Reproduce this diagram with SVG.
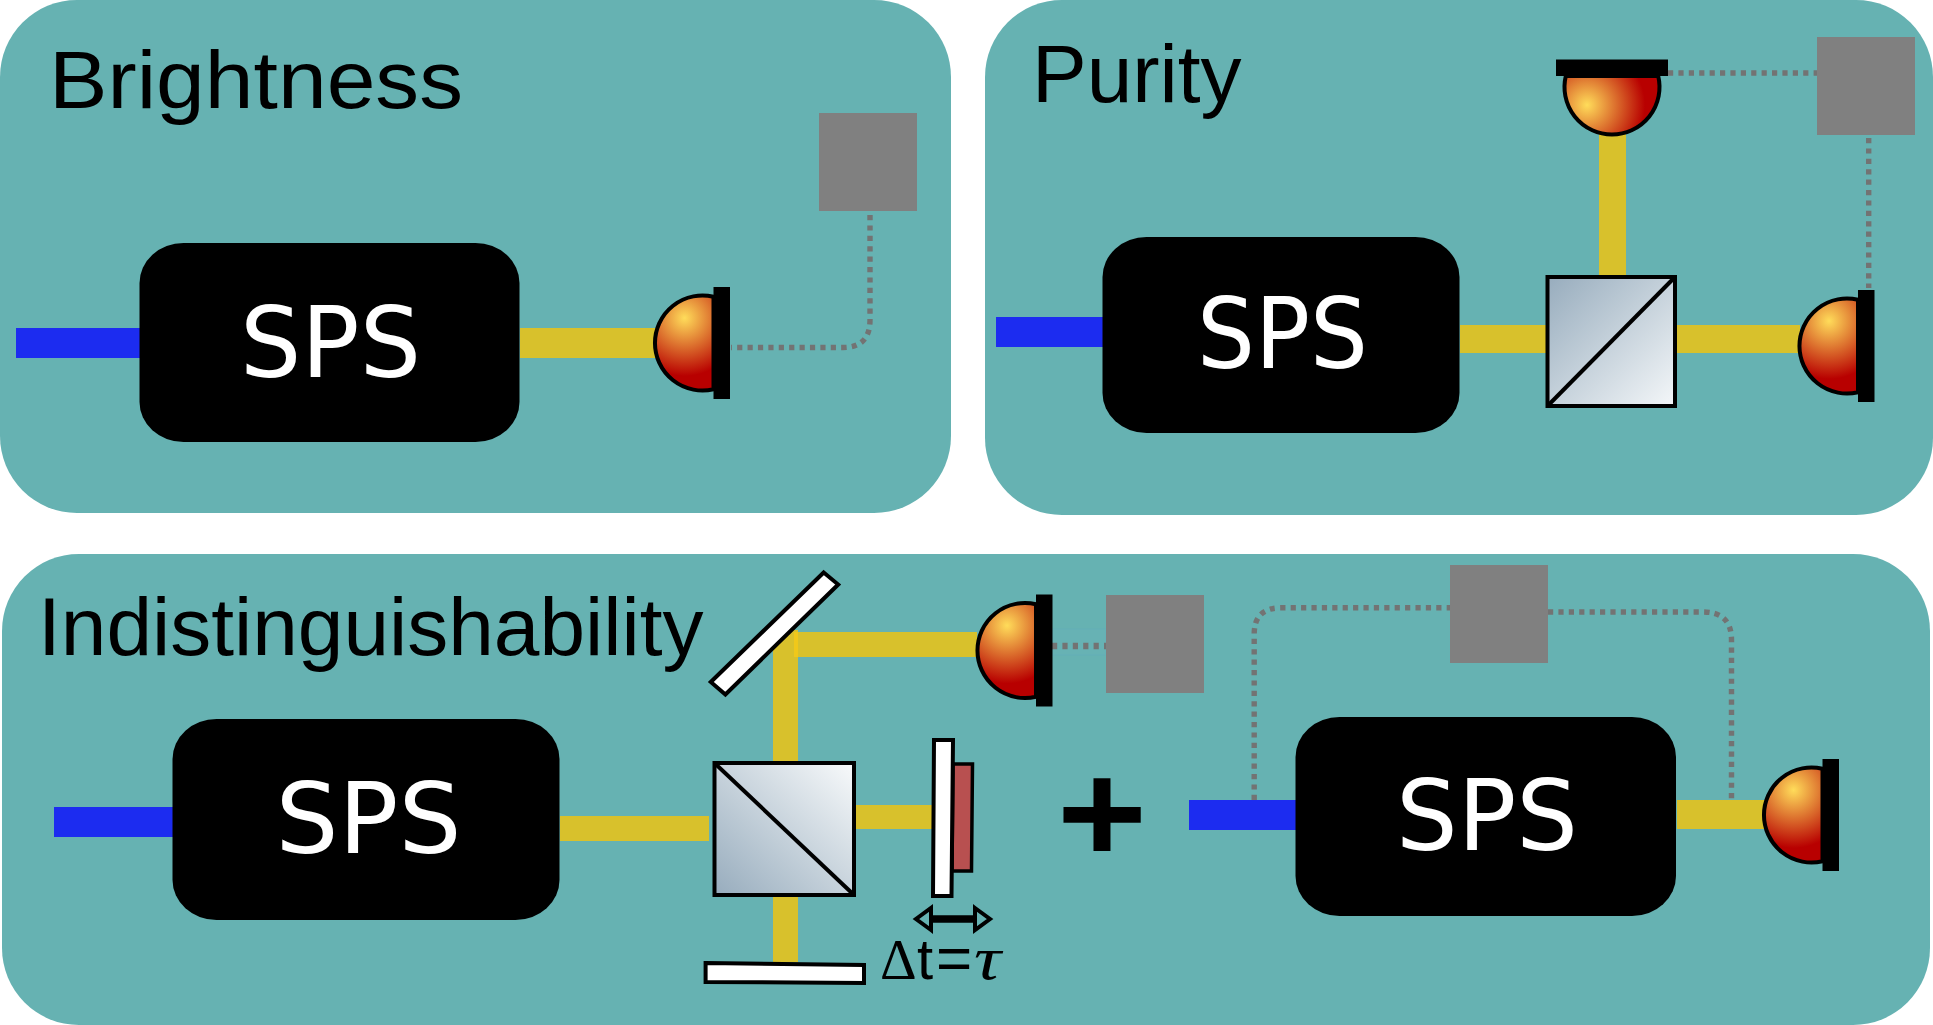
<svg xmlns="http://www.w3.org/2000/svg" xmlns:xlink="http://www.w3.org/1999/xlink" width="1933" height="1025" viewBox="0 0 1933 1025">
<style>
.panel{fill:#66b2b2}
.sps{fill:#000}
.blue{fill:#1c2cf0}
.yel{fill:#d8c12c}
.gray{fill:#808080}
.dot{fill:none;stroke:#737373;stroke-width:5.400;stroke-dasharray:5.200 5.200}
.title{font-family:"Liberation Sans",Arial,sans-serif;font-size:82px;fill:#000}
.spst{font-family:"DejaVu Sans",sans-serif;font-size:98px;fill:#fff}
.k{stroke:#000;stroke-width:4}
.mir{fill:#fff;stroke:#000;stroke-width:4}
</style>
<defs>
<radialGradient id="gDet" gradientUnits="userSpaceOnUse" cx="-18" cy="-25" r="58">
<stop offset="0" stop-color="#ffdc5a"/><stop offset="1" stop-color="#b80000"/>
</radialGradient>
<linearGradient id="gCubeA" x1="0" y1="0" x2="1" y2="1"><stop offset="0" stop-color="#97acbd"/><stop offset="1" stop-color="#f4f7f9"/></linearGradient>
<linearGradient id="gCubeB" x1="0" y1="1" x2="1" y2="0"><stop offset="0" stop-color="#97acbd"/><stop offset="1" stop-color="#f8fafb"/></linearGradient>
<g id="detector">
<path d="M11-46.200A47.500 47.500 0 1 0 11 46.200Z" fill="url(#gDet)" class="k"/>
<rect x="11" y="-56" width="16.500" height="112" fill="#000"/>
</g>
<marker id="head" markerUnits="userSpaceOnUse" markerWidth="28" markerHeight="30" refX="0" refY="15" orient="auto-start-reverse">
<path d="M2 4L17 15L2 26Z" fill="none" stroke="#000" stroke-width="4"/>
</marker>
</defs>
<g id="panels">
<rect id="panel-brightness" class="panel" x="0" y="0" width="951" height="513" rx="77" ry="77"/>
<rect id="panel-purity" class="panel" x="985" y="0" width="948" height="515" rx="77" ry="77"/>
<rect id="panel-indist" class="panel" x="2" y="554" width="1928" height="471" rx="77" ry="77"/>
</g>
<g id="connectors">
<rect class="blue" x="16" y="328" width="124" height="30"/>
<rect class="yel" x="520" y="328" width="136" height="30"/>
<path class="dot" d="M870 215V320Q870 347.500 843 347.500H731"/>
<rect class="blue" x="996" y="317" width="107" height="30"/>
<rect class="yel" x="1460" y="325" width="87" height="28"/>
<rect class="yel" x="1677" y="325" width="123" height="28"/>
<rect class="yel" x="1599" y="130" width="27" height="145"/>
<path class="dot" d="M1668 73H1817"/>
<path class="dot" d="M1868.700 138V288"/>
<rect class="blue" x="54" y="807" width="119" height="30"/>
<rect class="yel" x="560" y="816" width="149" height="25"/>
<rect class="yel" x="773" y="630" width="25" height="131"/>
<rect class="yel" x="794" y="632" width="183" height="25"/>
<rect x="794" y="632" width="4" height="25" fill="#f0c81a"/>
<rect class="yel" x="856" y="805" width="76" height="24"/>
<rect class="yel" x="773" y="897" width="25" height="65"/>
<rect x="1052" y="629" width="54" height="26" fill="#6ab4bc" fill-opacity=".25" stroke="#5fa8c0" stroke-opacity=".3" stroke-width="1"/>
<path class="dot" style="stroke-width:6.500" d="M1052 646H1106"/>
<rect class="blue" x="1189" y="800" width="107" height="30"/>
<rect class="yel" x="1677" y="800" width="88" height="29"/>
<path class="dot" d="M1254.200 800V634Q1254.200 607.800 1281 607.800H1451"/>
<path class="dot" d="M1548 612H1703Q1731.500 612 1731.500 640V802"/>
<line id="delay-arrow" x1="933" y1="919" x2="973" y2="919" stroke="#000" stroke-width="7.500" marker-start="url(#head)" marker-end="url(#head)"/>
</g>
<g id="title-brightness"><text class="title" x="49" y="108" textLength="414" lengthAdjust="spacingAndGlyphs">Brightness</text></g>
<g id="title-purity"><text class="title" x="1032" y="102">Purity</text></g>
<g id="title-indist"><text class="title" x="38" y="655">Indistinguishability</text></g>
<g id="sps-1"><rect class="sps" x="139.500" y="243" width="380" height="199" rx="44" ry="40"/><text class="spst" x="240" y="377" textLength="181" lengthAdjust="spacingAndGlyphs">SPS</text></g>
<g id="sps-2"><rect class="sps" x="1102.500" y="237" width="357" height="196" rx="44" ry="40"/><text class="spst" x="1197" y="368" textLength="171" lengthAdjust="spacingAndGlyphs">SPS</text></g>
<g id="sps-3"><rect class="sps" x="172.500" y="719" width="387" height="201" rx="44" ry="40"/><text class="spst" x="275.500" y="853" textLength="186" lengthAdjust="spacingAndGlyphs">SPS</text></g>
<g id="sps-4"><rect class="sps" x="1295.500" y="717" width="380.500" height="199" rx="44" ry="40"/><text class="spst" x="1396" y="850" textLength="182" lengthAdjust="spacingAndGlyphs">SPS</text></g>
<g id="detector-1"><use xlink:href="#detector" href="#detector" transform="translate(702.500 343)"/></g>
<g id="detector-2"><use xlink:href="#detector" href="#detector" transform="translate(1612 87) rotate(-90)"/></g>
<g id="detector-3"><use xlink:href="#detector" href="#detector" transform="translate(1847 346)"/></g>
<g id="detector-4"><use xlink:href="#detector" href="#detector" transform="translate(1025 650.500)"/></g>
<g id="detector-5"><use xlink:href="#detector" href="#detector" transform="translate(1811.500 815)"/></g>
<g id="counter-1"><rect class="gray" x="819" y="113" width="98" height="98"/></g>
<g id="counter-2"><rect class="gray" x="1817" y="37" width="98" height="98"/></g>
<g id="counter-3"><rect class="gray" x="1106" y="595" width="98" height="98"/></g>
<g id="counter-4"><rect class="gray" x="1450" y="565" width="98" height="98"/></g>
<g id="cube-1"><rect x="1547.500" y="277" width="127.500" height="129" fill="url(#gCubeA)" class="k"/><line class="k" x1="1675" y1="277" x2="1547.500" y2="406"/></g>
<g id="cube-2"><rect x="714.500" y="763" width="139.500" height="132" fill="url(#gCubeB)" class="k"/><line class="k" x1="714.500" y1="763" x2="854" y2="895"/></g>
<g id="mirror-diagonal"><polygon class="mir" points="823.700,572.500 838.200,584.500 725.400,694.500 710.800,682"/></g>
<g id="mirror-bottom"><polygon class="mir" points="705.600,963 864,965 864,983 705.600,982"/></g>
<g id="delay-plate">
<polygon points="953,764 972.500,764 971.500,871 952,871" fill="#b85050" stroke="#000" stroke-width="3.500"/>
<polygon class="mir" points="934,740 953,740 951.500,896 933,896"/>
</g>
<g id="plus"><text x="1102" y="862" text-anchor="middle" font-family="Liberation Sans,sans-serif" font-weight="700" font-size="142" textLength="90" lengthAdjust="spacingAndGlyphs">+</text></g>
<g id="delay-label"><text y="979" fill="#000"><tspan x="880" font-size="57" font-family="Liberation Serif,serif">Δ</tspan><tspan x="917" font-size="58" font-family="Liberation Sans,sans-serif">t</tspan><tspan x="936" font-size="62" font-family="Liberation Sans,sans-serif">=</tspan></text><text x="974" y="979" font-size="62" font-family="Liberation Serif,serif" font-style="italic" textLength="27" lengthAdjust="spacingAndGlyphs">τ</text></g>
</svg>
